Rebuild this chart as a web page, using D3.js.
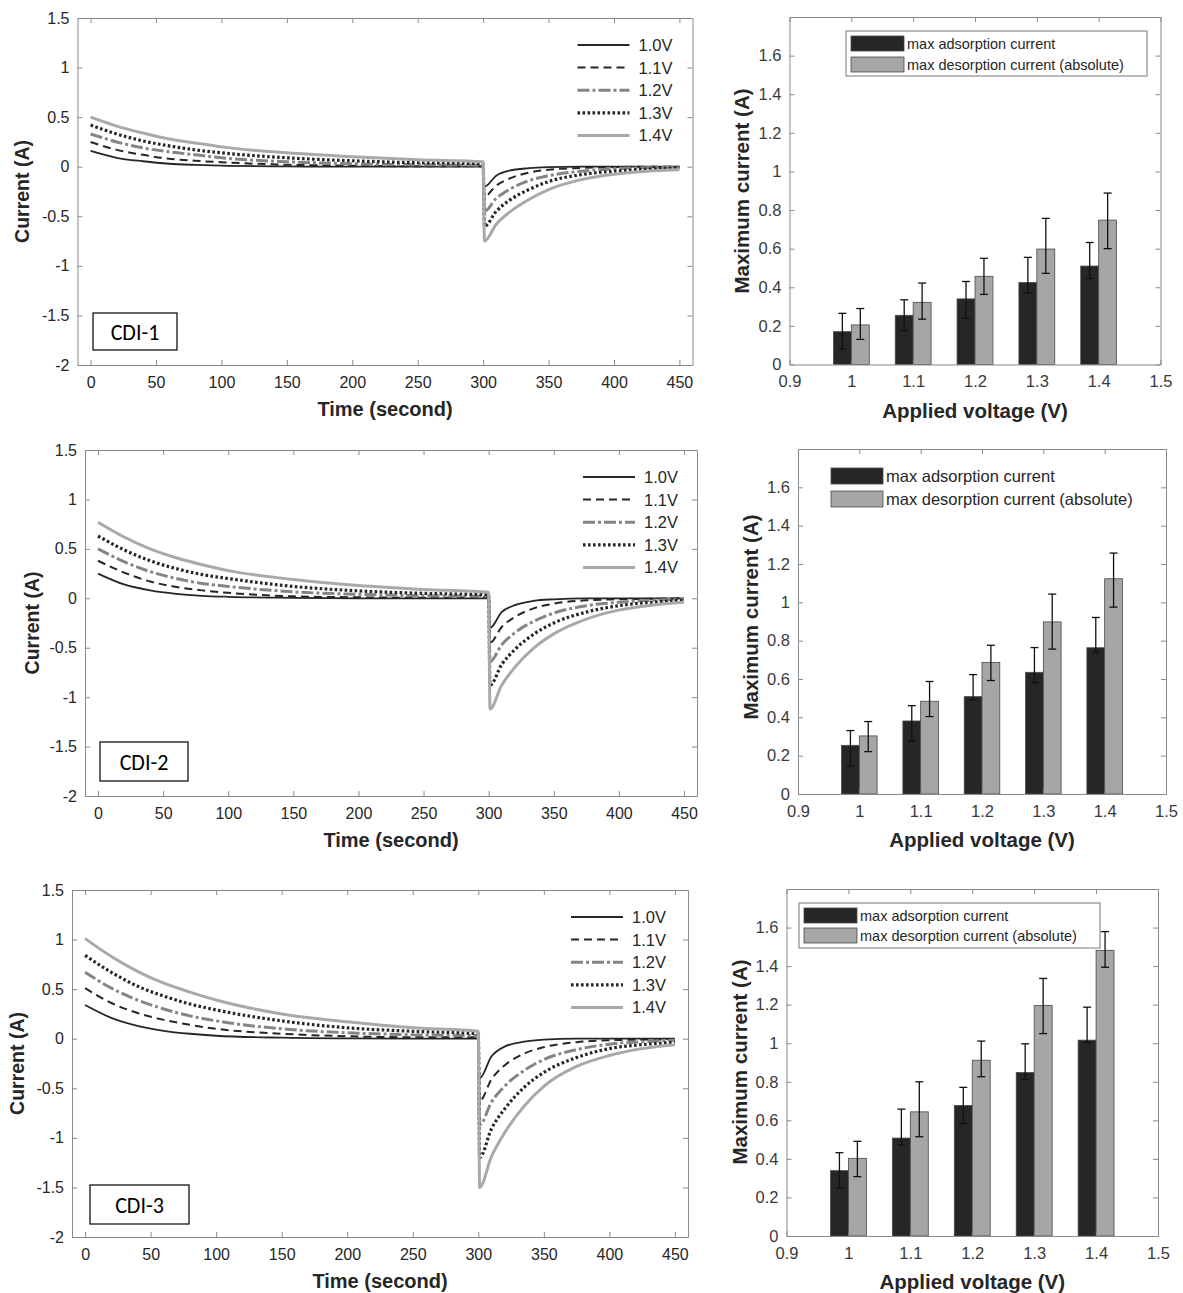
<!DOCTYPE html>
<html>
<head>
<meta charset="utf-8">
<script src="https://cdn.jsdelivr.net/npm/d3@7"></script>
<style>
  body { margin: 0; background: #fff; }
  svg { display: block; }
</style>
</head>
<body>
<svg id="fig" width="1183" height="1293"></svg>
<script>
// ---- data ----
// sample times (s): charging 0-300, then reverse at 300
const timeS = [0, 20, 40, 60, 80, 100, 150, 200, 250, 300, 301, 310, 320, 335, 350, 375, 400, 425, 450];
const voltLabels = ["1.0V", "1.1V", "1.2V", "1.3V", "1.4V"];

// current (A), one row per voltage, same order as voltLabels
const cdi1Current = [
  [0.16, 0.09, 0.055, 0.03, 0.018, 0.01, 0.003, 0, 0, 0, -0.20, -0.09, -0.04, -0.015, -0.005, 0, 0, 0, 0],
  [0.25, 0.17, 0.12, 0.08, 0.06, 0.045, 0.02, 0.01, 0.005, 0.005, -0.30, -0.19, -0.12, -0.06, -0.03, -0.012, -0.005, 0, 0],
  [0.33, 0.25, 0.19, 0.15, 0.12, 0.09, 0.05, 0.03, 0.02, 0.015, -0.45, -0.32, -0.23, -0.14, -0.09, -0.045, -0.02, -0.01, -0.005],
  [0.42, 0.33, 0.26, 0.21, 0.17, 0.14, 0.09, 0.06, 0.04, 0.03, -0.60, -0.45, -0.34, -0.23, -0.15, -0.08, -0.045, -0.025, -0.012],
  [0.50, 0.41, 0.34, 0.28, 0.24, 0.20, 0.14, 0.10, 0.07, 0.05, -0.75, -0.58, -0.46, -0.33, -0.23, -0.13, -0.075, -0.045, -0.03]
];
const cdi2Current = [
  [0.25, 0.14, 0.08, 0.045, 0.025, 0.015, 0.005, 0, 0, 0, -0.30, -0.14, -0.07, -0.025, -0.01, 0, 0, 0, 0],
  [0.38, 0.26, 0.17, 0.115, 0.08, 0.055, 0.02, 0.01, 0.005, 0.01, -0.45, -0.29, -0.19, -0.10, -0.055, -0.02, -0.01, -0.005, 0],
  [0.50, 0.37, 0.27, 0.20, 0.15, 0.12, 0.065, 0.04, 0.025, 0.02, -0.64, -0.47, -0.35, -0.23, -0.15, -0.075, -0.04, -0.02, -0.01],
  [0.63, 0.49, 0.38, 0.30, 0.24, 0.20, 0.12, 0.075, 0.05, 0.035, -0.88, -0.67, -0.52, -0.36, -0.25, -0.14, -0.075, -0.04, -0.02],
  [0.77, 0.62, 0.50, 0.41, 0.34, 0.28, 0.19, 0.13, 0.09, 0.06, -1.12, -0.88, -0.70, -0.50, -0.36, -0.21, -0.12, -0.07, -0.04]
];
const cdi3Current = [
  [0.34, 0.21, 0.13, 0.08, 0.05, 0.03, 0.01, 0.003, 0, 0, -0.40, -0.18, -0.08, -0.03, -0.01, 0, 0, 0, 0],
  [0.51, 0.36, 0.26, 0.19, 0.14, 0.10, 0.05, 0.025, 0.015, 0.015, -0.63, -0.41, -0.27, -0.15, -0.085, -0.035, -0.015, -0.01, -0.005],
  [0.67, 0.51, 0.39, 0.30, 0.23, 0.18, 0.10, 0.06, 0.04, 0.03, -0.87, -0.64, -0.48, -0.32, -0.21, -0.11, -0.055, -0.03, -0.015],
  [0.84, 0.67, 0.53, 0.43, 0.35, 0.29, 0.18, 0.11, 0.075, 0.05, -1.20, -0.91, -0.71, -0.49, -0.34, -0.19, -0.10, -0.06, -0.035],
  [1.01, 0.83, 0.68, 0.56, 0.47, 0.39, 0.25, 0.17, 0.11, 0.075, -1.50, -1.19, -0.95, -0.68, -0.48, -0.28, -0.17, -0.10, -0.06]
];

// max currents (A) with error-bar ends
const barVoltages = [1.0, 1.1, 1.2, 1.3, 1.4];
const cdi1Ads   = [0.17, 0.255, 0.34, 0.425, 0.51];
const cdi1AdsLo = [0.08, 0.175, 0.24, 0.37, 0.445];
const cdi1AdsHi = [0.265, 0.335, 0.43, 0.555, 0.632];
const cdi1Des   = [0.205, 0.322, 0.457, 0.598, 0.748];
const cdi1DesLo = [0.13, 0.235, 0.363, 0.472, 0.60];
const cdi1DesHi = [0.29, 0.422, 0.55, 0.757, 0.888];

const cdi2Ads   = [0.254, 0.381, 0.508, 0.635, 0.763];
const cdi2AdsLo = [0.146, 0.277, 0.491, 0.581, 0.738];
const cdi2AdsHi = [0.331, 0.461, 0.623, 0.764, 0.921];
const cdi2Des   = [0.303, 0.484, 0.686, 0.898, 1.123];
const cdi2DesLo = [0.221, 0.404, 0.592, 0.756, 0.975];
const cdi2DesHi = [0.378, 0.587, 0.776, 1.043, 1.257];

const cdi3Ads   = [0.339, 0.508, 0.677, 0.848, 1.016];
const cdi3AdsLo = [0.247, 0.472, 0.584, 0.812, 1.004];
const cdi3AdsHi = [0.432, 0.658, 0.771, 0.997, 1.187];
const cdi3Des   = [0.403, 0.644, 0.912, 1.196, 1.482];
const cdi3DesLo = [0.308, 0.515, 0.826, 1.05, 1.394];
const cdi3DesHi = [0.491, 0.80, 1.011, 1.336, 1.579];

const lineXTicks = [0, 50, 100, 150, 200, 250, 300, 350, 400, 450];
const lineYTicks = [-2, -1.5, -1, -0.5, 0, 0.5, 1, 1.5];
const barXTicks = [0.9, 1, 1.1, 1.2, 1.3, 1.4, 1.5];
const barYTicks = [0, 0.2, 0.4, 0.6, 0.8, 1, 1.2, 1.4, 1.6];
const barLegendLabels = ["max adsorption current", "max desorption current (absolute)"];

// ---- styling ----
const NARROW = "'Liberation Sans Narrow', 'Arial Narrow', 'Liberation Sans', Arial, sans-serif";
const ARIAL = "'Liberation Sans', Arial, sans-serif";
const CALIBRI = "Carlito, Lato, 'Open Sans', sans-serif";
const AXIS_GRAY = "#8a8a8a";
const TEXT_DARK = "#262626";

const lineStyles = [
  { color: "#262626", width: 1.8, dash: null },
  { color: "#262626", width: 2, dash: "8,5" },
  { color: "#858585", width: 3, dash: "12,3,3,3" },
  { color: "#262626", width: 3.2, dash: "2.6,2.4" },
  { color: "#a9a9a9", width: 3, dash: null }
];

const svg = d3.select("#fig");
svg.append("rect").attr("width", 1183).attr("height", 1293).attr("fill", "#fff");

const fmt = d => String(+d.toFixed(2));

function addAxes(g, x, y, xTicks, yTicks, font, size, padX) {
  const [xa, xb] = x.range();
  const [yb, ya] = y.range();
  g.append("g").attr("transform", `translate(0,${yb})`)
    .call(d3.axisBottom(x).tickValues(xTicks).tickFormat(fmt)
      .tickSizeInner(-5).tickSizeOuter(0).tickPadding(padX));
  g.append("g").attr("transform", `translate(0,${ya})`)
    .call(d3.axisTop(x).tickValues(xTicks).tickFormat("")
      .tickSizeInner(-5).tickSizeOuter(0));
  g.append("g").attr("transform", `translate(${xa},0)`)
    .call(d3.axisLeft(y).tickValues(yTicks).tickFormat(fmt)
      .tickSizeInner(-5).tickSizeOuter(0).tickPadding(8));
  g.append("g").attr("transform", `translate(${xb},0)`)
    .call(d3.axisRight(y).tickValues(yTicks).tickFormat("")
      .tickSizeInner(-5).tickSizeOuter(0));
  g.selectAll(".domain, .tick line").attr("stroke", AXIS_GRAY).attr("stroke-width", 1);
  g.selectAll(".tick text")
    .attr("fill", TEXT_DARK)
    .style("font-family", font)
    .style("font-size", size + "px");
}

function drawLinePanel(p) {
  const g = svg.append("g");
  const x = d3.scaleLinear().domain([-10, 460]).range([p.left, p.right]);
  const y = d3.scaleLinear().domain([-2, 1.5]).range([p.bottom, p.top]);

  const line = d3.line()
    .x((d, i) => x(timeS[i]))
    .y(d => y(d))
    .curve(d3.curveMonotoneX);

  g.selectAll("path.series")
    .data(p.data)
    .join("path")
    .attr("class", "series")
    .attr("d", d => line(d))
    .attr("fill", "none")
    .attr("stroke", (d, i) => lineStyles[i].color)
    .attr("stroke-width", (d, i) => lineStyles[i].width)
    .attr("stroke-dasharray", (d, i) => lineStyles[i].dash);

  addAxes(g, x, y, lineXTicks, lineYTicks, NARROW, 16, 12);

  // legend
  const lg = g.append("g");
  voltLabels.forEach((lab, i) => {
    const yy = p.top + 27 + i * 22.6;
    lg.append("line")
      .attr("x1", p.right - p.legOff).attr("x2", p.right - p.legOff + 52)
      .attr("y1", yy).attr("y2", yy)
      .attr("stroke", lineStyles[i].color)
      .attr("stroke-width", lineStyles[i].width)
      .attr("stroke-dasharray", lineStyles[i].dash);
    lg.append("text")
      .attr("x", p.right - p.legOff + 61).attr("y", yy)
      .attr("dominant-baseline", "central")
      .attr("fill", TEXT_DARK)
      .style("font-family", NARROW).style("font-size", "16.5px")
      .text(lab);
  });

  // sample tag box
  const [bx, by, bw, bh] = p.tagBox;
  g.append("rect")
    .attr("x", bx).attr("y", by).attr("width", bw).attr("height", bh)
    .attr("fill", "#fff").attr("stroke", "#000").attr("stroke-width", 1.2);
  g.append("text")
    .attr("x", bx + bw / 2).attr("y", by + bh / 2 + 1)
    .attr("text-anchor", "middle").attr("dominant-baseline", "central")
    .attr("fill", "#000")
    .style("font-family", CALIBRI).style("font-size", "22px")
    .text(p.tag);

  // axis titles
  g.append("text")
    .attr("x", (p.left + p.right) / 2).attr("y", p.bottom + 51)
    .attr("text-anchor", "middle").attr("fill", TEXT_DARK)
    .style("font-family", NARROW).style("font-weight", "bold").style("font-size", "20px")
    .text("Time (second)");
  g.append("text")
    .attr("transform", `translate(${p.ylabX},${(p.top + p.bottom) / 2}) rotate(-90)`)
    .attr("text-anchor", "middle").attr("dominant-baseline", "central")
    .attr("fill", TEXT_DARK)
    .style("font-family", ARIAL).style("font-weight", "bold").style("font-size", "19.5px")
    .text("Current (A)");
}

function drawBarPanel(p) {
  const g = svg.append("g");
  const x = d3.scaleLinear().domain([0.9, 1.5]).range([p.left, p.right]);
  const y = d3.scaleLinear().domain([0, 1.8]).range([p.bottom, p.top]);
  const bw = x(0.929) - x(0.9);

  const groups = [
    { vals: p.ads, lo: p.adsLo, hi: p.adsHi, fill: "#262626", off: -1 },
    { vals: p.des, lo: p.desLo, hi: p.desHi, fill: "#a6a6a6", off: 0 }
  ];

  groups.forEach(s => {
    const rows = barVoltages.map((v, i) => ({ v, val: s.vals[i], lo: s.lo[i], hi: s.hi[i] }));
    g.append("g").selectAll("rect")
      .data(rows).join("rect")
      .attr("x", d => x(d.v) + s.off * bw)
      .attr("y", d => y(d.val))
      .attr("width", bw)
      .attr("height", d => y(0) - y(d.val))
      .attr("fill", s.fill)
      .attr("stroke", "#4a4a4a").attr("stroke-width", 0.8);

    const eb = g.append("g").attr("stroke", "#111").attr("stroke-width", 1.3);
    rows.forEach(d => {
      const cx = x(d.v) + s.off * bw + bw / 2;
      eb.append("line").attr("x1", cx).attr("x2", cx).attr("y1", y(d.lo)).attr("y2", y(d.hi));
      eb.append("line").attr("x1", cx - 4).attr("x2", cx + 4).attr("y1", y(d.lo)).attr("y2", y(d.lo));
      eb.append("line").attr("x1", cx - 4).attr("x2", cx + 4).attr("y1", y(d.hi)).attr("y2", y(d.hi));
    });
  });

  addAxes(g, x, y, barXTicks, barYTicks, ARIAL, 16.5, 11);
  g.selectAll(".tick text").attr("fill", "#3a3a3a");

  // legend
  const L = p.legend;
  if (L.box) {
    g.append("rect")
      .attr("x", L.box[0]).attr("y", L.box[1]).attr("width", L.box[2]).attr("height", L.box[3])
      .attr("fill", "#fff").attr("stroke", "#777").attr("stroke-width", 1);
  }
  groups.forEach((s, i) => {
    const sy = L.y0 + i * L.step;
    g.append("rect")
      .attr("x", L.x).attr("y", sy).attr("width", L.sw).attr("height", L.sh)
      .attr("fill", s.fill).attr("stroke", "#4a4a4a").attr("stroke-width", 0.8);
    g.append("text")
      .attr("x", L.x + L.sw + 3).attr("y", sy + L.sh / 2)
      .attr("dominant-baseline", "central").attr("fill", TEXT_DARK)
      .style("font-family", ARIAL).style("font-size", L.fs + "px")
      .text(barLegendLabels[i]);
  });

  g.append("text")
    .attr("x", (p.left + p.right) / 2).attr("y", p.bottom + 53)
    .attr("text-anchor", "middle").attr("fill", TEXT_DARK)
    .style("font-family", ARIAL).style("font-weight", "bold").style("font-size", "20.5px")
    .text("Applied voltage (V)");
  g.append("text")
    .attr("transform", `translate(${p.ylabX},${p.ylabY}) rotate(-90)`)
    .attr("text-anchor", "middle").attr("dominant-baseline", "central")
    .attr("fill", TEXT_DARK)
    .style("font-family", ARIAL).style("font-weight", "bold").style("font-size", "20.5px")
    .text("Maximum current (A)");
}

drawLinePanel({ data: cdi1Current, tag: "CDI-1", left: 77.5, right: 692.5, top: 18, bottom: 365,
  legOff: 115, tagBox: [93, 313, 84, 37], ylabX: 22 });
drawLinePanel({ data: cdi2Current, tag: "CDI-2", left: 85, right: 697, top: 450, bottom: 796,
  legOff: 114, tagBox: [100, 742, 88, 39], ylabX: 32 });
drawLinePanel({ data: cdi3Current, tag: "CDI-3", left: 72, right: 688, top: 890, bottom: 1237,
  legOff: 117, tagBox: [90, 1185, 99, 39], ylabX: 17 });

drawBarPanel({ ads: cdi1Ads, adsLo: cdi1AdsLo, adsHi: cdi1AdsHi, des: cdi1Des, desLo: cdi1DesLo, desHi: cdi1DesHi,
  left: 789.5, right: 1160.5, top: 17, bottom: 364.5, ylabX: 741, ylabY: 191,
  legend: { box: [846, 31, 301, 45], x: 851, y0: 36, step: 21, sw: 53, sh: 15, fs: 14.5 } });
drawBarPanel({ ads: cdi2Ads, adsLo: cdi2AdsLo, adsHi: cdi2AdsHi, des: cdi2Des, desLo: cdi2DesLo, desHi: cdi2DesHi,
  left: 798, right: 1166, top: 449, bottom: 794, ylabX: 750, ylabY: 617,
  legend: { box: null, x: 831, y0: 468, step: 23, sw: 52, sh: 16, fs: 16.5 } });
drawBarPanel({ ads: cdi3Ads, adsLo: cdi3AdsLo, adsHi: cdi3AdsHi, des: cdi3Des, desLo: cdi3DesLo, desHi: cdi3DesHi,
  left: 786.5, right: 1158, top: 889, bottom: 1236, ylabX: 739, ylabY: 1062,
  legend: { box: [799, 903, 301, 45], x: 804, y0: 908, step: 20, sw: 53, sh: 15, fs: 14.5 } });
</script>
</body>
</html>
